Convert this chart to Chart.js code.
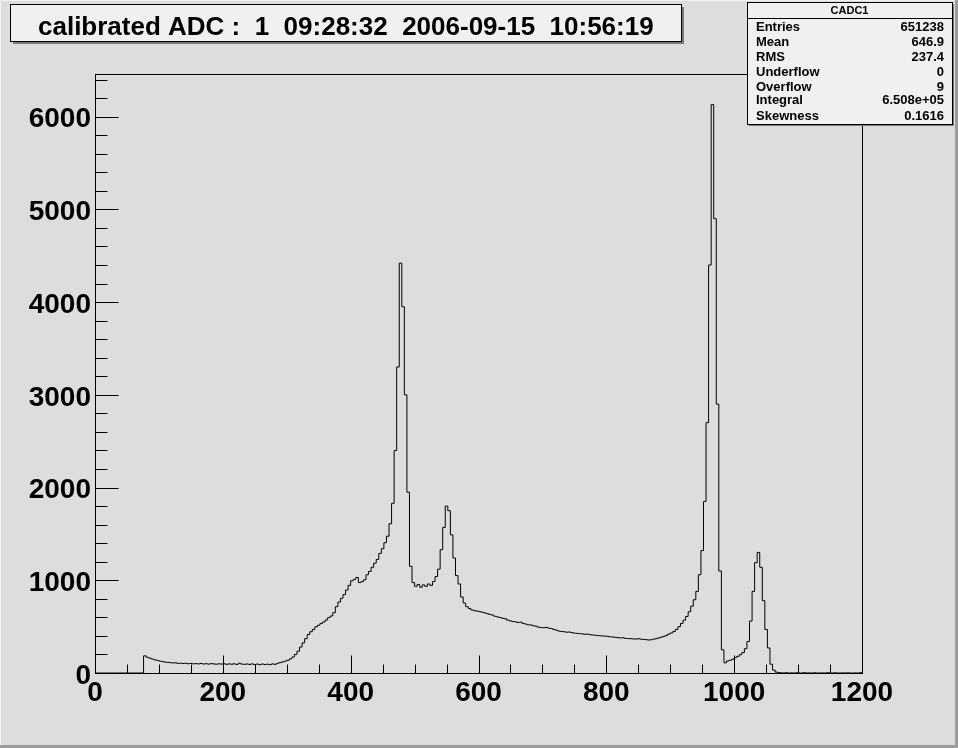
<!DOCTYPE html>
<html><head><meta charset="utf-8">
<script src="https://cdn.jsdelivr.net/npm/chart.js@4.4.1/dist/chart.umd.min.js"></script>
<style>html,body{margin:0;padding:0;background:#dddddd;overflow:hidden}canvas{display:block}</style>
</head><body>
<div style="width:958px;height:748px;position:relative"><canvas id="c" width="958" height="748"></canvas></div>
<script>
// ---- data (bin width 4 from 0 to 1200) ----
const binWidth = 4;
const xMin = 0, xMax = 1200;
const yMax = 6460;
const counts = [
0,0,0,0,0,0,0,0,0,0,0,0,0,0,0,0,0,0,0,
185,170,160,150,142,135,128,122,118,115,112,
108,110,104,106,102,105,100,103,99,101,
98,103,97,100,96,101,98,95,99,96,
100,94,98,95,99,93,105,96,94,97,
93,98,92,96,90,97,92,95,90,98,
94,105,112,120,128,138,152,172,200,235,
280,325,370,415,445,470,498,515,535,550,
572,598,615,650,715,765,805,845,895,945,
995,1010,1030,975,985,1005,1060,1095,1140,1185,
1225,1290,1340,1405,1475,1610,1830,2400,3300,4420,
3950,3000,1950,1150,975,935,955,925,950,935,
960,945,985,1040,1120,1330,1570,1800,1750,1490,
1240,1050,960,820,755,715,695,680,672,668,
662,655,648,640,632,625,612,605,598,590,
585,570,562,555,552,545,548,535,528,520,
518,510,505,495,490,488,492,484,480,470,
462,452,448,445,440,442,436,430,428,425,
422,418,420,414,410,408,405,402,400,398,
396,390,388,385,382,378,380,374,372,370,
368,366,370,365,362,360,356,358,365,370,
378,385,395,405,420,432,448,470,500,535,
570,610,660,720,790,880,1060,1320,1850,2700,
4400,6130,4900,2900,1100,250,110,130,138,148,
165,180,198,220,262,340,560,880,1190,1300,
1140,780,470,270,95,32,10,4,2,0,
3,0,1,0,2,0,0,3,0,1,
0,2,0,0,1,0,3,0,0,2,
0,0,1,0,2,0,0,1,0,3
];
const xMajorStep = 200, xMinorStep = 50;
const yMajorStep = 1000, yMinorStep = 200;
const yTickLabels = [0, 1000, 2000, 3000, 4000, 5000, 6000];
const titleText = 'calibrated ADC :  1  09:28:32  2006-09-15  10:56:19';
const statsName = 'CADC1';
const statsLabels = ['Entries','Mean','RMS','Underflow','Overflow','Integral','Skewness'];
const statsValues = ['651238','646.9','237.4','0','9','6.508e+05','0.1616'];

// ---- build points (bin low edges, plus closing edge) ----
const points = counts.map((v,i)=>({x: xMin + i*binWidth, y: v}));
points.push({x: xMax, y: counts[counts.length-1]});

const FONT = '"Liberation Sans", Arial, Helvetica, sans-serif';
const BG = '#dddddd';
const TICK_FONT_SIZE = 28;

const rootPlugin = {
  id: 'rootStyle',
  beforeDraw(chart){
    const ctx = chart.ctx;
    ctx.save();
    ctx.fillStyle = BG;
    ctx.fillRect(0,0,chart.width,chart.height);
    ctx.fillStyle = '#9c9c9c';
    ctx.fillRect(chart.width-3,0,3,chart.height);
    ctx.fillRect(0,chart.height-3,chart.width,3);
    ctx.fillStyle = '#f2f2f2';
    ctx.fillRect(0,0,chart.width-3,1);
    ctx.fillRect(0,0,1,chart.height-3);
    ctx.restore();
  },
  afterDraw(chart){
    const ctx = chart.ctx;
    const a = chart.chartArea;
    const xs = chart.scales.x, ys = chart.scales.y;
    ctx.save();
    ctx.strokeStyle = '#000';
    ctx.lineWidth = 1;
    ctx.strokeRect(Math.round(a.left)+0.5, Math.round(a.top)+0.5, Math.round(a.right-a.left), Math.round(a.bottom-a.top));
    ctx.beginPath();
    const yb = Math.round(a.bottom)+0.5;
    for (let v = xMin; v <= xMax; v += xMinorStep){
      const px = Math.round(xs.getPixelForValue(v))+0.5;
      const len = (v % xMajorStep === 0) ? 18 : 9;
      ctx.moveTo(px, yb); ctx.lineTo(px, yb-len);
    }
    const xl = Math.round(a.left)+0.5;
    for (let v = 0; v <= yMax; v += yMinorStep){
      const py = Math.round(ys.getPixelForValue(v))+0.5;
      const len = (v % yMajorStep === 0) ? 23 : 12;
      ctx.moveTo(xl, py); ctx.lineTo(xl+len, py);
    }
    ctx.stroke();

    // y tick labels, placed with the y scale
    ctx.fillStyle = '#000';
    ctx.font = 'bold ' + TICK_FONT_SIZE + 'px ' + FONT;
    ctx.textAlign = 'right';
    ctx.textBaseline = 'middle';
    yTickLabels.forEach(v => {
      ctx.fillText(String(v), Math.round(a.left) - 4, ys.getPixelForValue(v) + 3);
    });

    // title box
    const tb = {x:10, y:4, w:671, h:37};
    ctx.fillStyle = '#7a7a7a';
    ctx.fillRect(tb.x+3, tb.y+3, tb.w, tb.h);
    ctx.fillStyle = '#f0f0f0';
    ctx.fillRect(tb.x, tb.y, tb.w, tb.h);
    ctx.strokeRect(tb.x+0.5, tb.y+0.5, tb.w, tb.h);
    ctx.fillStyle = '#000';
    ctx.font = 'bold 26px ' + FONT;
    ctx.textAlign = 'left';
    ctx.textBaseline = 'alphabetic';
    ctx.fillText(titleText, 38, 35);

    // stats box
    const sb = {x:747, y:2, w:205, h:122};
    ctx.fillStyle = '#7a7a7a';
    ctx.fillRect(sb.x+2, sb.y+2, sb.w, sb.h);
    ctx.fillStyle = '#f0f0f0';
    ctx.fillRect(sb.x, sb.y, sb.w, sb.h);
    ctx.strokeRect(sb.x+0.5, sb.y+0.5, sb.w, sb.h);
    ctx.beginPath();
    ctx.moveTo(sb.x, 18.5); ctx.lineTo(sb.x+sb.w, 18.5);
    ctx.stroke();
    ctx.fillStyle = '#000';
    ctx.font = 'bold 11px ' + FONT;
    ctx.textAlign = 'center';
    ctx.textBaseline = 'middle';
    ctx.fillText(statsName, sb.x + sb.w/2, 11);
    const rowY = [27, 42.5, 57.5, 72.5, 87.5, 100, 116];
    ctx.font = 'bold 13px ' + FONT;
    statsLabels.forEach((lab,i)=>{
      ctx.textAlign = 'left';
      ctx.fillText(lab, 756, rowY[i]);
      ctx.textAlign = 'right';
      ctx.fillText(statsValues[i], 944, rowY[i]);
    });
    ctx.restore();
  }
};

new Chart(document.getElementById('c'), {
  type: 'line',
  data: { datasets: [{
    data: points,
    stepped: 'before',
    borderColor: '#000',
    borderWidth: 1,
    pointRadius: 0,
    fill: false,
    tension: 0
  }]},
  options: {
    responsive: false,
    animation: false,
    devicePixelRatio: 1,
    layout: { padding: { left: 0, right: 96, top: 74, bottom: 0 } },
    plugins: { legend: {display:false}, title: {display:false}, tooltip: {enabled:false} },
    scales: {
      x: {
        type: 'linear', min: xMin, max: xMax,
        grid: { display: false, drawTicks: false },
        border: { display: false },
        ticks: { stepSize: xMajorStep, autoSkip: false, maxRotation: 0, color: '#000', padding: 3,
                 callback: v => String(v),
                 font: { family: FONT, size: TICK_FONT_SIZE, weight: 'bold' } },
        afterFit(s){ s.height = 75; }
      },
      y: {
        type: 'linear', min: 0, max: yMax,
        grid: { display: false, drawTicks: false },
        border: { display: false },
        ticks: { display: false, stepSize: yMajorStep },
        afterFit(s){ s.width = 95; }
      }
    }
  },
  plugins: [rootPlugin]
});
</script>
</body></html>
